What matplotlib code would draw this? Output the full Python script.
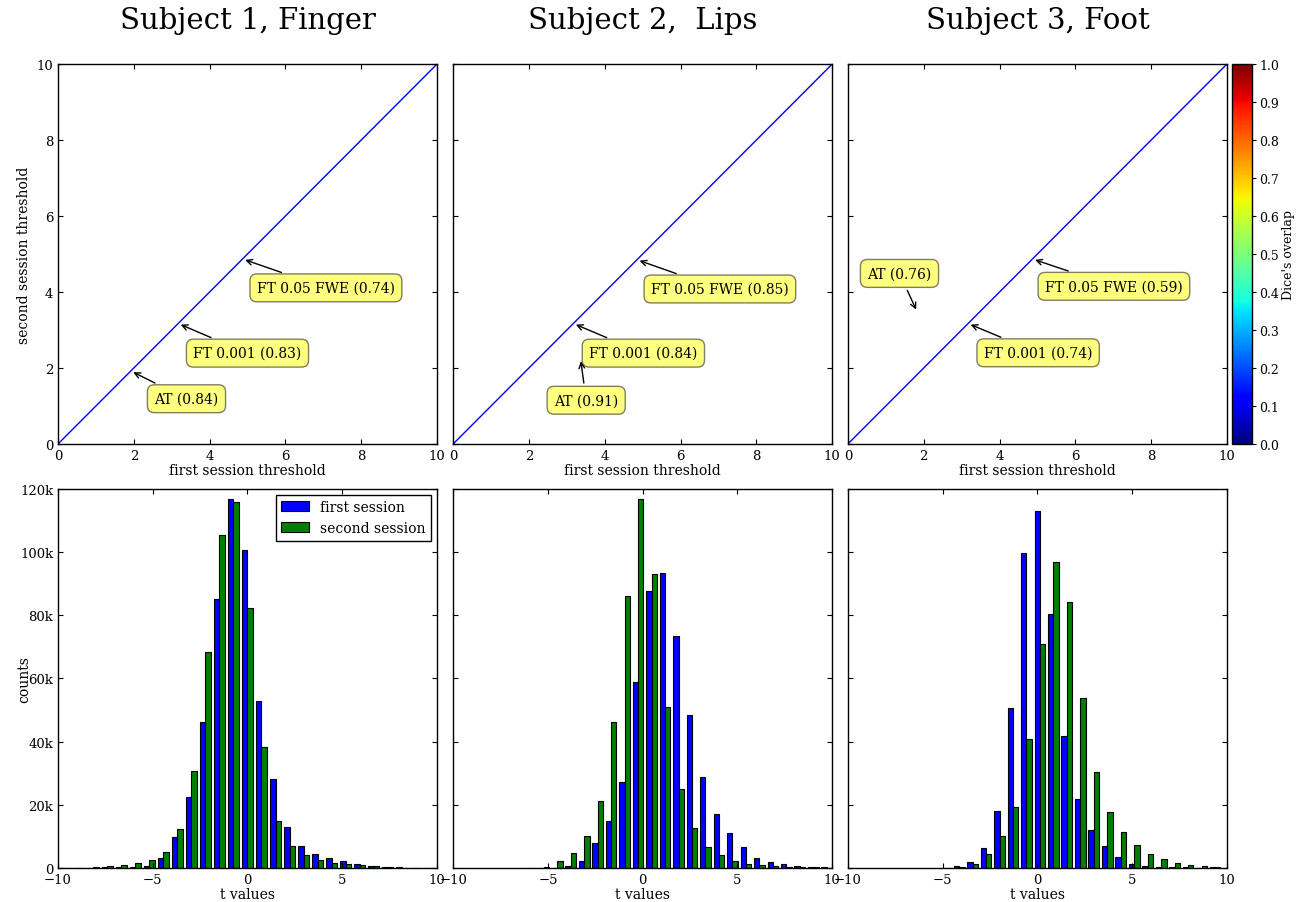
import numpy as np
import matplotlib
matplotlib.use("Agg")
import matplotlib.pyplot as plt
from matplotlib.ticker import FuncFormatter

plt.rcParams["font.family"] = ["DejaVu Serif"]
plt.rcParams["xtick.direction"] = "in"
plt.rcParams["ytick.direction"] = "in"
plt.rcParams["xtick.top"] = True
plt.rcParams["ytick.right"] = True
plt.rcParams["xtick.labelsize"] = 9.5
plt.rcParams["ytick.labelsize"] = 9.5
plt.rcParams["axes.linewidth"] = 1.0

titles = ["Subject 1, Finger", "Subject 2,  Lips", "Subject 3, Foot"]

# identity line of the threshold plots
line_x = [0, 10]
line_y = [0, 10]

# threshold annotations: label, arrow tip (x, y), text centre (x, y)
labels = [
    ["AT (0.84)", "FT 0.001 (0.83)", "FT 0.05 FWE (0.74)"],
    ["AT (0.91)", "FT 0.001 (0.84)", "FT 0.05 FWE (0.85)"],
    ["AT (0.76)", "FT 0.001 (0.74)", "FT 0.05 FWE (0.59)"],
]
tip_x = [[1.92, 3.17, 4.87], [3.36, 3.17, 4.85], [1.83, 3.17, 4.87]]
tip_y = [[1.92, 3.17, 4.87], [2.25, 3.17, 4.85], [3.47, 3.17, 4.87]]
text_x = [[3.39, 5.00, 7.07], [3.51, 5.02, 7.04], [1.36, 5.02, 7.02]]
text_y = [[1.19, 2.39, 4.11], [1.15, 2.39, 4.08], [4.49, 2.40, 4.15]]

# histogram bins (first edge, bin width)
bin_start = [-10.0, -6.293, -5.197]
bin_width = [0.7407, 0.712, 0.711]

first_1 = [0, 0, 100, 200, 200, 300, 500, 3000, 9800, 22500, 46300, 85300,
           116800, 100700, 53000, 28100, 13100, 7100, 4300, 3100, 2100, 1300,
           600, 300, 200, 100, 50]
second_1 = [0, 100, 200, 600, 1000, 1500, 2500, 5200, 12200, 30600, 68300,
            105500, 115900, 82300, 38300, 14800, 7100, 4000, 2500, 1600, 1200,
            900, 600, 400, 100, 100, 50]

first_2 = [0, 100, 100, 600, 2300, 7900, 15000, 27300, 59000, 87700, 93400,
           73500, 48500, 28700, 17200, 11200, 6700, 3100, 1800, 1100, 600, 400,
           300]
second_2 = [50, 300, 2200, 4700, 10000, 21300, 46200, 86000, 116800, 93000,
            51000, 25000, 12800, 6700, 4100, 2200, 1100, 800, 500, 300, 200,
            200, 100]

first_3 = [100, 500, 2000, 6300, 18100, 50600, 99700, 112900, 80400, 41700,
           21900, 12100, 7000, 3400, 1400, 700, 400, 300, 200, 100, 300]
second_3 = [100, 400, 1100, 4400, 10100, 19300, 40800, 70800, 96800, 84300,
            53900, 30400, 17800, 11400, 7400, 4400, 2700, 1700, 900, 600, 200]

first_counts = [first_1, first_2, first_3]
second_counts = [second_1, second_2, second_3]

fig = plt.figure(figsize=(12.96, 9.03), dpi=100)

lefts = [0.0448, 0.3497, 0.6543]
width = 0.2923
top_row = []
bottom_row = []
for i in range(3):
    top_row.append(fig.add_axes([lefts[i], 0.5073, width, 0.4205]))
    bottom_row.append(fig.add_axes([lefts[i], 0.0377, width, 0.4197]))

k_fmt = FuncFormatter(lambda v, pos: "0" if v == 0 else "%dk" % (v / 1000))

for i in range(3):
    ax = top_row[i]
    ax.plot(line_x, line_y, color="blue", linewidth=1.0)
    for j in range(3):
        ax.annotate(labels[i][j], xy=(tip_x[i][j], tip_y[i][j]),
                    xytext=(text_x[i][j], text_y[i][j]),
                    ha="center", va="center", fontsize=10,
                    bbox=dict(boxstyle="round,pad=0.5", fc="yellow", alpha=0.5),
                    arrowprops=dict(arrowstyle="->", color="black", lw=1.0))
    ax.set_xlim(0, 10)
    ax.set_ylim(0, 10)
    ax.set_xticks(np.arange(0, 11, 2))
    ax.set_yticks(np.arange(0, 11, 2))
    ax.set_xlabel("first session threshold", fontsize=10, labelpad=1)
    ax.set_title(titles[i], fontsize=21, pad=26)
    if i == 0:
        ax.set_ylabel("second session threshold", fontsize=10)
        ax.yaxis.set_label_coords(-0.072, 0.5)
    else:
        ax.set_yticklabels([])

    ax = bottom_row[i]
    n = len(first_counts[i])
    edges = bin_start[i] + bin_width[i] * np.arange(n + 1)
    centers = (edges[:-1] + edges[1:]) / 2
    ax.hist([centers, centers], bins=edges,
            weights=[first_counts[i], second_counts[i]],
            color=["blue", "green"], edgecolor="black", linewidth=0.8,
            label=["first session", "second session"])
    ax.set_xlim(-10, 10)
    ax.set_ylim(0, 120000)
    ax.set_xticks([-10, -5, 0, 5, 10])
    ax.set_yticks(np.arange(0, 120001, 20000))
    ax.yaxis.set_major_formatter(k_fmt)
    ax.set_xlabel("t values", fontsize=10, labelpad=1)
    if i == 0:
        ax.set_ylabel("counts", fontsize=10)
        ax.yaxis.set_label_coords(-0.072, 0.5)
        ax.legend(loc="upper right", fontsize=10, fancybox=False,
                  edgecolor="black", framealpha=1.0, borderaxespad=0.4)
    else:
        ax.set_yticklabels([])

cax = fig.add_axes([0.9506, 0.5073, 0.0155, 0.4205])
sm = plt.cm.ScalarMappable(cmap="jet", norm=plt.Normalize(0, 1))
cb = fig.colorbar(sm, cax=cax, ticks=np.arange(0, 1.01, 0.1))
cb.ax.set_yticklabels(["%.1f" % t for t in np.arange(0, 1.01, 0.1)])
cb.ax.tick_params(direction="out", length=3, pad=2, labelsize=9)
cb.set_label("Dice's overlap", fontsize=9, labelpad=2)

fig.savefig("out.png", dpi=100, facecolor="white")
